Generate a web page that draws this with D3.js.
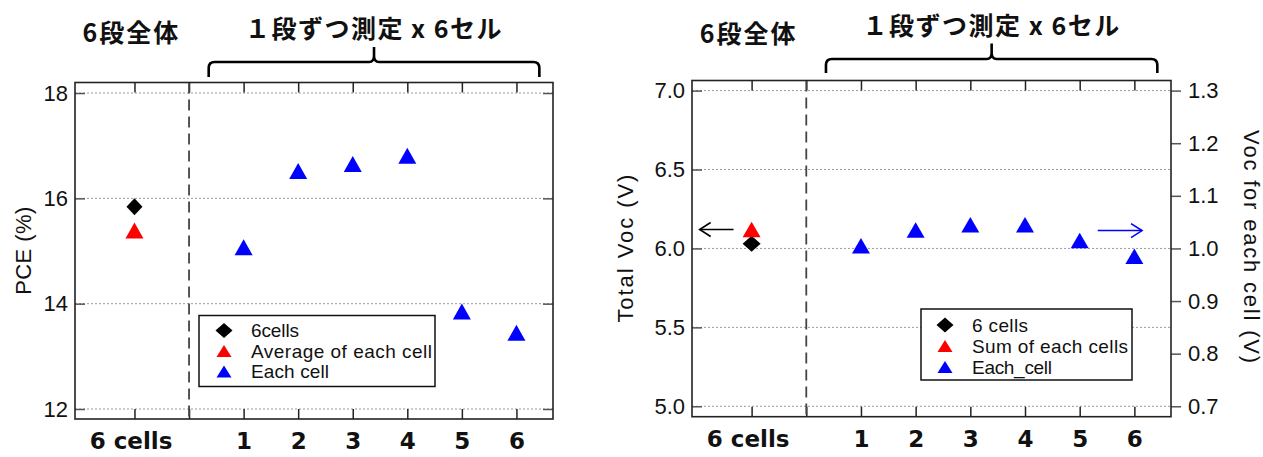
<!DOCTYPE html>
<html><head><meta charset="utf-8">
<script src="https://cdn.jsdelivr.net/npm/d3@7"></script>
<style>body{margin:0;background:#fff} svg{display:block}</style>
</head><body>
<svg id="c" width="1263" height="457"></svg>
<script>
// ---------- data ----------
const categoryLabels = ["6 cells","1","2","3","4","5","6"];
const categoryPositions = [0,2,3,4,5,6,7];
const separatorPosition = 1;
const cellPositions = [2,3,4,5,6,7];

const pceTicks = [12,14,16,18];
const pceSixCells = 15.84;
const pceAverageOfCells = 15.39;
const pceEachCell = [15.07,16.52,16.65,16.81,13.85,13.45];

const vocTotalTicks = [5.0,5.5,6.0,6.5,7.0];
const vocCellTicks = [0.7,0.8,0.9,1.0,1.1,1.2,1.3];
const vocSixCells = 6.03;
const vocSumOfCells = 6.12;
const vocEachCell = [1.005,1.035,1.045,1.045,1.015,0.985];

const titleWhole = "6段全体";
const titleEach = "１段ずつ測定 x 6セル";
const leftLegend = ["6cells","Average of each cell","Each cell"];
const rightLegend = ["6 cells","Sum of each cells","Each_cell"];
const leftYTitle = "PCE (%)";
const rightYTitle = "Total Voc (V)";
const rightY2Title = "Voc for each cell (V)";

// ---------- helpers ----------
const svg = d3.select("#c");
const NUM_FONT = "'Liberation Sans', Arial, sans-serif";
const JP_FONT = "'Noto Sans CJK JP', sans-serif";
const CAT_FONT = "'DejaVu Sans', sans-serif";

function tri(cx, cy, w, h){ return `M${cx-w/2},${cy+h/2}L${cx+w/2},${cy+h/2}L${cx},${cy-h/2}Z`; }
function dia(cx, cy, w, h){ return `M${cx},${cy-h/2}L${cx+w/2},${cy}L${cx},${cy+h/2}L${cx-w/2},${cy}Z`; }

function styleAxis(sel){
  sel.select(".domain").remove();
  sel.selectAll(".tick line").attr("stroke","#555").attr("stroke-width",1.5);
}

function panel(cfg){
  const g = svg.append("g");
  const x = d3.scaleLinear().domain([-1.09,7.67]).range([cfg.x0,cfg.x1]);
  const y = d3.scaleLinear().domain(cfg.yDomain).range([cfg.y1,cfg.y0]);

  // grid
  g.append("g").selectAll("line").data(cfg.yTicks).join("line")
    .attr("x1",cfg.x0).attr("x2",cfg.x1).attr("y1",d=>y(d)).attr("y2",d=>y(d))
    .attr("stroke","#9a9a9a").attr("stroke-width",1).attr("stroke-dasharray","2,2");

  const allTicks = [0,1,2,3,4,5,6,7];
  // left axis
  const ax = g.append("g").attr("transform",`translate(${cfg.x0},0)`)
    .call(d3.axisLeft(y).tickValues(cfg.yTicks).tickSize(-10).tickPadding(7).tickFormat(cfg.fmt));
  styleAxis(ax);
  ax.selectAll("text").attr("font-family",NUM_FONT).attr("font-size",22).attr("fill","#111");

  // top axis ticks
  const at = g.append("g").attr("transform",`translate(0,${cfg.y0})`)
    .call(d3.axisTop(x).tickValues(allTicks).tickSize(-10).tickFormat(""));
  styleAxis(at);
  at.selectAll(".tick line").attr("stroke","#222");

  // bottom axis
  const ab = g.append("g").attr("transform",`translate(0,${cfg.y1})`)
    .call(d3.axisBottom(x).tickValues(allTicks).tickSize(-10).tickPadding(14)
      .tickFormat(d=>{ const i = categoryPositions.indexOf(d); return i<0?"":categoryLabels[i]; }));
  styleAxis(ab);
  ab.selectAll(".tick line").attr("stroke","#222");
  ab.selectAll("text").attr("font-family",CAT_FONT).attr("font-weight","bold").attr("font-size",23).attr("fill","#111")
    .attr("dx",d=>d===0?-4:0);

  // right axis
  let yR = null;
  if (cfg.right){
    yR = d3.scaleLinear().domain([0.7,1.3]).range([y(5.0), y(7.0)]);
    const ar = g.append("g").attr("transform",`translate(${cfg.x1},0)`)
      .call(d3.axisRight(yR).tickValues(vocCellTicks).tickSize(10).tickPadding(7).tickFormat(d3.format(".1f")));
    styleAxis(ar);
    ar.selectAll("text").attr("font-family",NUM_FONT).attr("font-size",22).attr("fill","#111");
  } else {
    const ar = g.append("g").attr("transform",`translate(${cfg.x1},0)`)
      .call(d3.axisRight(y).tickValues(cfg.yTicks).tickSize(-10).tickFormat(""));
    styleAxis(ar);
  }

  // separator
  g.append("line").attr("x1",x(separatorPosition)).attr("x2",x(separatorPosition))
    .attr("y1",cfg.y0).attr("y2",cfg.y1).attr("stroke","#444").attr("stroke-width",1.8)
    .attr("stroke-dasharray","11,6");

  // frame
  g.append("rect").attr("x",cfg.x0).attr("y",cfg.y0).attr("width",cfg.x1-cfg.x0).attr("height",cfg.y1-cfg.y0)
    .attr("fill","none").attr("stroke","#222").attr("stroke-width",1.6);

  // titles
  g.append("text").attr("x",x(0)-3).attr("y",cfg.t1y).attr("text-anchor","middle").attr("dominant-baseline","central")
    .attr("font-family",JP_FONT).attr("font-weight","bold").attr("font-size",25).attr("letter-spacing",2)
    .attr("fill","#111").text(titleWhole);
  const bL = x(1.36), bR = x(7.42), bC = (bL+bR)/2;
  g.append("text").attr("x",bC).attr("y",cfg.t2y).attr("text-anchor","middle").attr("dominant-baseline","central")
    .attr("font-family",JP_FONT).attr("font-weight","bold").attr("font-size",25).attr("letter-spacing",1.5)
    .attr("fill","#111").text(titleEach);

  // bracket
  const yl = cfg.bLine, yg = cfg.bLeg, yt = cfg.bTop;
  const p = `M${bL},${yg}L${bL},${yl+6}Q${bL},${yl} ${bL+6},${yl}L${bC-5},${yl}Q${bC},${yl} ${bC},${yl-6}L${bC},${yt}`+
            `M${bR},${yg}L${bR},${yl+6}Q${bR},${yl} ${bR-6},${yl}L${bC+5},${yl}Q${bC},${yl} ${bC},${yl-6}`;
  g.append("path").attr("d",p).attr("fill","none").attr("stroke","#000").attr("stroke-width",2.6);

  // y titles
  g.append("text").attr("transform",`translate(${cfg.ytx},${(cfg.y0+cfg.y1)/2}) rotate(-90)`)
    .attr("text-anchor","middle").attr("dominant-baseline","central")
    .attr("font-family",NUM_FONT).attr("font-size",22).attr("fill","#111")
    .attr("textLength",cfg.ytLen).attr("lengthAdjust","spacing").text(cfg.yTitle);
  if (cfg.right){
    g.append("text").attr("transform",`translate(${cfg.yt2x},${(cfg.y0+cfg.y1)/2-2}) rotate(90)`)
      .attr("text-anchor","middle").attr("dominant-baseline","central")
      .attr("font-family",NUM_FONT).attr("font-size",22).attr("fill","#111")
      .attr("textLength",233).attr("lengthAdjust","spacing").text(rightY2Title);
  }

  // legend
  const L = cfg.legend;
  g.append("rect").attr("x",L.x).attr("y",L.y).attr("width",L.w).attr("height",L.h)
    .attr("fill","#fff").attr("stroke","#111").attr("stroke-width",1.5);
  const rows = [{shape:"d",color:"#000"},{shape:"t",color:"#ff0000"},{shape:"t",color:"#0000ff"}];
  rows.forEach((r,i)=>{
    const cy = L.y + L.r0 + i*L.dy;
    g.append("path").attr("d", r.shape==="d" ? dia(L.mx,cy,17,15) : tri(L.mx,cy,15,12)).attr("fill",r.color);
    g.append("text").attr("x",L.tx).attr("y",cy).attr("dominant-baseline","central")
      .attr("font-family",NUM_FONT).attr("font-size",19).attr("fill","#111")
      .attr("textLength",L.lens[i]).attr("lengthAdjust","spacing").text(L.labels[i]);
  });

  return {g,x,y,yR};
}

// ---------- left panel: PCE ----------
const P1 = panel({x0:75,x1:553,y0:82.5,y1:419,yDomain:[11.81,18.2],yTicks:pceTicks,fmt:d3.format("d"),
  t1y:31,t2y:27,bLine:62,bLeg:77,bTop:47,ytx:23,yTitle:leftYTitle,ytLen:88,
  legend:{x:199,y:315.5,w:236,h:71,r0:15,dy:20.5,mx:224,tx:251,labels:leftLegend,lens:[48,181,78]}});
P1.g.append("path").attr("d",dia(P1.x(0),P1.y(pceSixCells),16,17)).attr("fill","#000");
P1.g.append("path").attr("d",tri(P1.x(0),P1.y(pceAverageOfCells),18,16)).attr("fill","#ff0000");
P1.g.selectAll(".cell").data(pceEachCell).join("path")
  .attr("d",(d,i)=>tri(P1.x(cellPositions[i]),P1.y(d),18,16)).attr("fill","#0000ff");

// ---------- right panel: Voc ----------
const P2 = panel({x0:692,x1:1171,y0:80.5,y1:416.7,yDomain:[4.934,7.064],yTicks:vocTotalTicks,fmt:d3.format(".1f"),
  right:true,t1y:32,t2y:24,bLine:59,bLeg:73,bTop:43.5,ytx:625,yt2x:1251,yTitle:rightYTitle,ytLen:148,
  legend:{x:921,y:309,w:211,h:71,r0:16,dy:21,mx:945,tx:972,labels:rightLegend,lens:[56,156,80]}});
P2.g.append("path").attr("d",dia(P2.x(0),P2.y(vocSixCells),18,16)).attr("fill","#000");
P2.g.append("path").attr("d",tri(P2.x(0),P2.y(vocSumOfCells),18,15.5)).attr("fill","#ff0000");
P2.g.selectAll(".cell").data(vocEachCell).join("path")
  .attr("d",(d,i)=>tri(P2.x(cellPositions[i]),P2.yR(d),18,15.5)).attr("fill","#0000ff");

// axis-pointer arrows
function arrow(g, xa, xb, yy, color, headAtEnd){
  g.append("line").attr("x1",xa).attr("x2",xb).attr("y1",yy).attr("y2",yy).attr("stroke",color).attr("stroke-width",1.6);
  const hx = headAtEnd ? xb : xa, s = headAtEnd ? -1 : 1;
  g.append("path").attr("d",`M${hx+s*11},${yy-7}L${hx},${yy}L${hx+s*11},${yy+7}`)
    .attr("fill","none").attr("stroke",color).attr("stroke-width",1.6);
}
arrow(P2.g, P2.x(-0.95), P2.x(-0.33), P2.y(6.12), "#000", false);
arrow(P2.g, P2.x(6.33), P2.x(7.14), P2.yR(1.034), "#0000ff", true);
</script>
</body></html>
